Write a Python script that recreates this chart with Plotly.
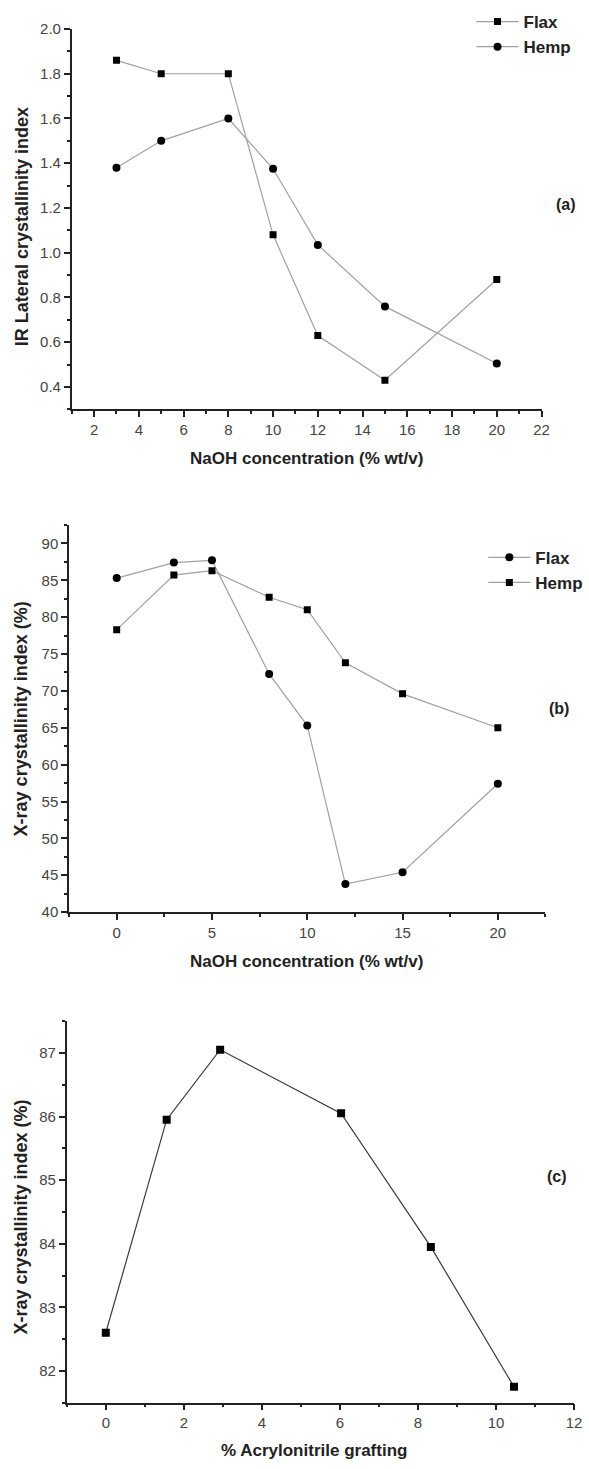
import plotly.graph_objects as go

# ---- data ----
a_x = [3, 5, 8, 10, 12, 15, 20]
a_flax = [1.86, 1.80, 1.80, 1.08, 0.63, 0.43, 0.88]
a_hemp = [1.38, 1.50, 1.60, 1.375, 1.035, 0.76, 0.505]

b_x = [0, 3, 5, 8, 10, 12, 15, 20]
b_flax = [85.3, 87.4, 87.7, 72.3, 65.3, 43.8, 45.4, 57.4]
b_hemp = [78.3, 85.7, 86.3, 82.7, 81.0, 73.8, 69.6, 65.0]

c_x = [0, 1.56, 2.93, 6.03, 8.33, 10.46]
c_y = [82.6, 85.95, 87.05, 86.05, 83.95, 81.75]

W, H = 589, 1469
FONT = "Liberation Sans, Arial, sans-serif"
GREY = "#a0a0a0"
DARK = "#3a3a3a"

fig = go.Figure()

def add(x, y, name, symbol, size, xa, ya, legend, color, show=True):
    fig.add_trace(go.Scatter(
        x=x, y=y, name=name, mode="lines+markers",
        line=dict(color=color, width=1.2),
        marker=dict(symbol=symbol, size=size, color="black"),
        xaxis=xa, yaxis=ya, legend=legend, showlegend=show))

add(a_x, a_flax, "Flax", "square", 7, "x", "y", "legend", GREY)
add(a_x, a_hemp, "Hemp", "circle", 8, "x", "y", "legend", GREY)
add(b_x, b_flax, "Flax", "circle", 8, "x2", "y2", "legend2", GREY)
add(b_x, b_hemp, "Hemp", "square", 7, "x2", "y2", "legend2", GREY)
add(c_x, c_y, "c", "square", 8, "x3", "y3", "legend", DARK, show=False)

def px_x(p):
    return p / W

def px_y(p):
    return 1 - p / H

def axis(domain, rng, dtick, tick0, mdtick, anchor, fmt=None):
    d = dict(domain=domain, range=rng, dtick=dtick, tick0=tick0,
             showline=True, linecolor="#222", linewidth=1.6,
             ticks="outside", ticklen=6, tickwidth=1.5, tickcolor="#222",
             showgrid=False, zeroline=False, anchor=anchor,
             tickfont=dict(family=FONT, size=15, color="#444"),
             minor=dict(dtick=mdtick, ticks="outside", ticklen=3,
                        tickwidth=1.5, tickcolor="#222", showgrid=False))
    if fmt:
        d["tickformat"] = fmt
    return d

layout = dict(
    width=W, height=H, margin=dict(l=0, r=0, t=0, b=0),
    plot_bgcolor="white", paper_bgcolor="white",
    font=dict(family=FONT, color="#222"),
    xaxis=axis([px_x(72.7), px_x(549)], [1, 22], 2, 2, 1, "y"),
    yaxis=axis([px_y(405), px_y(20)], [0.3, 2.001], 0.2, 0.4, 0.1, "x", ".1f"),
    xaxis2=axis([px_x(70), px_x(553)], [-2.5, 22.5], 5, 0, 2.5, "y2"),
    yaxis2=axis([px_y(913.7), px_y(522)], [40, 92.5], 5, 40, 2.5, "x2"),
    xaxis3=axis([px_x(67.7), px_x(582)], [-1, 12.001], 2, 0, 1, "y3"),
    yaxis3=axis([px_y(1410), px_y(1024)], [81.5, 87.5], 1, 82, 0.5, "x3"),
    legend=dict(x=px_x(478), y=px_y(-5), xanchor="left", yanchor="top",
                bgcolor="rgba(0,0,0,0)", itemwidth=42, tracegroupgap=0,
                font=dict(family=FONT, size=17, color="#222", weight="bold")),
    legend2=dict(x=px_x(490), y=px_y(537), xanchor="left", yanchor="top",
                 bgcolor="rgba(0,0,0,0)", itemwidth=42, tracegroupgap=0,
                 font=dict(family=FONT, size=17, color="#222", weight="bold")),
)
fig.update_layout(**layout)

def ann(text, x, y, angle=0, size=17):
    fig.add_annotation(text="<b>%s</b>" % text, x=px_x(x), y=px_y(y),
                       xref="paper", yref="paper", showarrow=False,
                       textangle=angle, xanchor="center", yanchor="middle",
                       font=dict(family=FONT, size=size, color="#222"))

# axis titles
ann("IR Lateral crystallinity index", 23, 220, -90, 18)
ann("NaOH concentration (% wt/v)", 311, 455)
ann("X-ray crystallinity index (%)", 21, 718, -90, 18)
ann("NaOH concentration (% wt/v)", 311, 964)
ann("X-ray crystallinity index (%)", 21, 1222, -90, 18)
ann("% Acrylonitrile grafting", 318, 1458)

# panel labels
ann("(a)", 574, 198, size=16)
ann("(b)", 567, 708, size=16)
ann("(c)", 565, 1181, size=16)

fig.write_html("out.html")
